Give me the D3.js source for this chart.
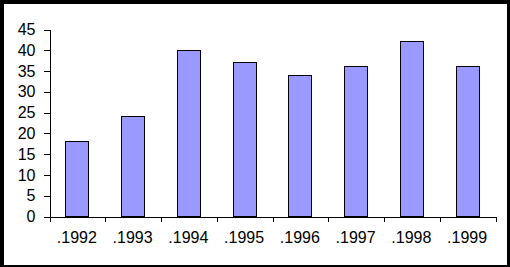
<!DOCTYPE html>
<html>
<head>
<meta charset="utf-8">
<script src="https://cdn.jsdelivr.net/npm/d3@7"></script>
<style>
  body { margin: 0; padding: 0; background: #fff; }
  text { font-family: "Liberation Sans", Arial, sans-serif; }
</style>
</head>
<body>
<div id="chart"></div>
<script>
// Chart data
var years = [".1992", ".1993", ".1994", ".1995", ".1996", ".1997", ".1998", ".1999"];
var values = [18, 24, 40, 37, 34, 36, 42, 36];
var yTicks = [0, 5, 10, 15, 20, 25, 30, 35, 40, 45];

var width = 510, height = 267;
var plot = {left: 49, right: 495, top: 29, bottom: 216};

var svg = d3.select("div#chart").append("svg")
	.attr("width", width)
	.attr("height", height);

// Black frame around the chart
svg.append("rect")
	.attr("width", width).attr("height", height)
	.attr("fill", "#000");
svg.append("rect")
	.attr("x", 4).attr("y", 4)
	.attr("width", 503).attr("height", 261)
	.attr("fill", "#fff");

// Scales
var x = d3.scaleBand()
	.domain(years)
	.range([plot.left, plot.right])
	.paddingInner(0.59)
	.paddingOuter(0.295);

var y = d3.scaleLinear()
	.domain([0, 45])
	.range([plot.bottom, plot.top]);

// Bars
svg.append("g")
	.selectAll("rect")
	.data(values)
	.enter().append("rect")
	.attr("x", (d, i) => Math.round(x(years[i])) + 0.5)
	.attr("y", d => Math.round(y(d)) + 0.5)
	.attr("width", Math.round(x.bandwidth()))
	.attr("height", d => Math.round(y(0)) - Math.round(y(d)))
	.attr("fill", "#9999ff")
	.attr("stroke", "#000")
	.attr("stroke-width", 1);

// Y axis
var yAxis = svg.append("g")
	.attr("transform", "translate(" + (plot.left + 0.5) + ",0.5)")
	.call(d3.axisLeft(y).tickValues(yTicks).tickSize(6).tickSizeOuter(0).tickPadding(8));

// X axis: ticks at category boundaries
var xEdge = d3.scaleLinear().domain([0, years.length]).range([plot.left, plot.right]);
var xAxis = svg.append("g")
	.attr("transform", "translate(0.5," + (plot.bottom + 0.5) + ")")
	.call(d3.axisBottom(xEdge).tickValues(d3.range(years.length + 1)).tickSize(5).tickSizeOuter(0).tickFormat(""));

// X labels at bar centres
svg.append("g")
	.attr("transform", "translate(0," + plot.bottom + ")")
	.call(d3.axisBottom(x).tickSize(0).tickPadding(16))
	.call(g => g.select(".domain").remove());

svg.selectAll(".tick text")
	.attr("font-size", 16)
	.attr("font-family", "Liberation Sans, Arial, sans-serif")
	.attr("fill", "#000");
svg.selectAll(".domain, .tick line")
	.attr("stroke", "#000")
	.attr("shape-rendering", "crispEdges");
</script>
</body>
</html>
